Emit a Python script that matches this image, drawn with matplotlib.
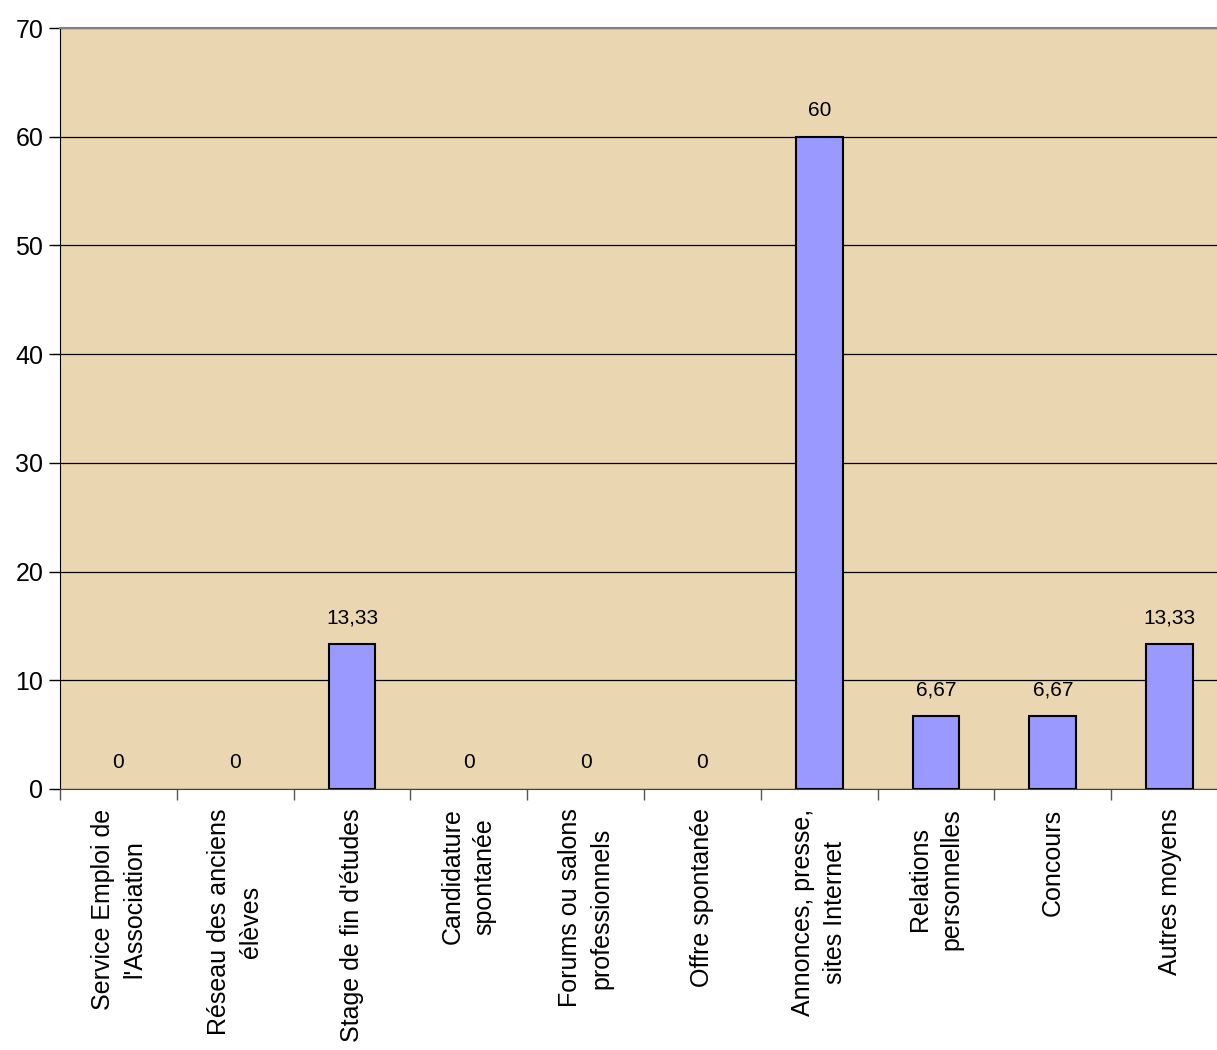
import numpy as np
import matplotlib
matplotlib.use("Agg")
from matplotlib import pyplot as plt

plt.rcParams['font.family'] = ['Liberation Sans', 'DejaVu Sans']

categories = ["Service Emploi de\nl'Association",
              "Réseau des anciens\nélèves",
              "Stage de fin d'études",
              "Candidature\nspontanée",
              "Forums ou salons\nprofessionnels",
              "Offre spontanée",
              "Annonces, presse,\nsites Internet",
              "Relations\npersonnelles",
              "Concours",
              "Autres moyens"]
values = [0, 0, 13.33, 0, 0, 0, 60, 6.67, 6.67, 13.33]
labels = ["0", "0", "13,33", "0", "0", "0", "60", "6,67", "6,67", "13,33"]

fig = plt.figure(figsize=(12.17, 10.5), dpi=100)
# the plot area runs a little past the right edge of the picture
ax = fig.add_axes([60/1217, 1-789/1050, 1168/1217, (789-28)/1050])
ax.set_facecolor('#EAD7B1')

x = np.arange(len(categories))
vals = np.array(values)
nz = vals > 0
ax.bar(x[nz], vals[nz], width=0.4, color='#9999FF', edgecolor='black', linewidth=1.5, zorder=3)

for xi, v, lab in zip(x, values, labels):
    ax.annotate(lab, (xi, v), xytext=(0, 19), textcoords='offset points',
                ha='center', va='center', fontsize=15, zorder=4)

ax.set_xlim(-0.5, len(categories) - 0.5)
ax.set_ylim(0, 70)
ax.set_yticks(range(0, 71, 10))
ax.yaxis.grid(True, color='black', linewidth=0.9, zorder=1)
ax.set_axisbelow(True)

ax.set_xticks(x)
ax.set_xticklabels(categories, rotation=90, fontsize=18, ha='center', va='top',
                   multialignment='center', linespacing=1.4)
ax.set_xticks(np.arange(-0.5, len(categories)), minor=True)
ax.tick_params(axis='x', which='major', length=0, pad=14)
ax.tick_params(axis='x', which='minor', length=8, width=1, color='#555555')
ax.tick_params(axis='y', labelsize=18, length=8, width=1, pad=4)

ax.spines['right'].set_visible(False)
ax.spines['top'].set_color('#808080')
ax.spines['top'].set_linewidth(1.5)
ax.spines['left'].set_color('black')
ax.spines['bottom'].set_color('#444444')

fig.savefig('out.png', dpi=100)
